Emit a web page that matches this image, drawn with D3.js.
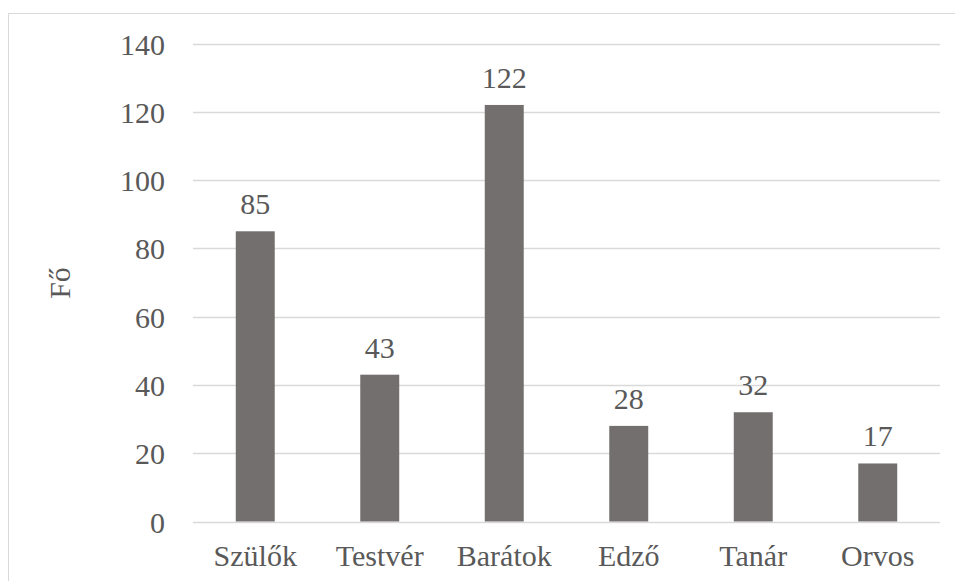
<!DOCTYPE html>
<html>
<head>
<meta charset="utf-8">
<script src="https://cdn.jsdelivr.net/npm/d3@7"></script>
<style>
  html, body { margin: 0; padding: 0; background: #fff; }
  svg { display: block; }
</style>
</head>
<body>
<svg id="chart" width="955" height="581"></svg>
<script>
const categories = ["Szülők", "Testvér", "Barátok", "Edző", "Tanár", "Orvos"];
const values = [85, 43, 122, 28, 32, 17];
const yTicks = [0, 20, 40, 60, 80, 100, 120, 140];
const yLabel = "Fő";

const FONT = "Liberation Serif, Tinos, Times New Roman, Times, DejaVu Serif, serif";
const TXT = "#595959";
const FS = 30;

const svg = d3.select("#chart");
const W = 955, H = 581;
const margin = { left: 193, right: 15, top: 43.5, bottom: 59.5 };

// outer border
svg.append("rect")
  .attr("x", 8.5).attr("y", 13.5)
  .attr("width", W + 10).attr("height", H + 10)
  .attr("fill", "none").attr("stroke", "#d9d9d9").attr("stroke-width", 1);

const x = d3.scaleBand()
  .domain(categories)
  .range([margin.left, W - margin.right])
  .paddingInner(0.687)
  .paddingOuter(0.3435);

const y = d3.scaleLinear()
  .domain([0, 140])
  .range([H - margin.bottom, margin.top]);

// gridlines
svg.append("g")
  .selectAll("line")
  .data(yTicks)
  .join("line")
  .attr("x1", margin.left).attr("x2", W - margin.right)
  .attr("y1", d => Math.round(y(d)) + 0.5)
  .attr("y2", d => Math.round(y(d)) + 0.5)
  .attr("stroke", "#d9d9d9").attr("stroke-width", 1.3);

// y tick labels
const yAxis = d3.axisLeft(y).tickValues(yTicks).tickSize(0).tickPadding(0);
const gy = svg.append("g").attr("transform", `translate(165,0)`).call(yAxis)
  .attr("font-family", FONT).attr("font-size", FS);
gy.select(".domain").remove();
gy.selectAll("text")
  .attr("dy", "0.35em")
  .attr("fill", TXT);

// bars
svg.append("g")
  .selectAll("rect")
  .data(values)
  .join("rect")
  .attr("x", (d, i) => x(categories[i]))
  .attr("width", x.bandwidth())
  .attr("y", d => y(d))
  .attr("height", d => y(0) - y(d))
  .attr("fill", "#736f6e");

// data labels
svg.append("g")
  .attr("font-family", FONT).attr("font-size", FS).attr("fill", TXT)
  .selectAll("text")
  .data(values)
  .join("text")
  .attr("x", (d, i) => x(categories[i]) + x.bandwidth() / 2)
  .attr("y", d => y(d) - 17)
  .attr("text-anchor", "middle")
  .text(d => d);

// x axis labels
const xAxis = d3.axisBottom(x).tickSize(0).tickPadding(0);
const gx = svg.append("g").attr("transform", `translate(0,${y(0)})`).call(xAxis)
  .attr("font-family", FONT).attr("font-size", FS);
gx.select(".domain").remove();
gx.selectAll("text")
  .attr("dy", null)
  .attr("y", 44)
  .attr("fill", TXT);

// y axis title
svg.append("text")
  .attr("transform", `translate(70,283) rotate(-90)`)
  .attr("text-anchor", "middle")
  .attr("font-family", FONT).attr("font-size", FS).attr("fill", TXT)
  .text(yLabel);
</script>
</body>
</html>
